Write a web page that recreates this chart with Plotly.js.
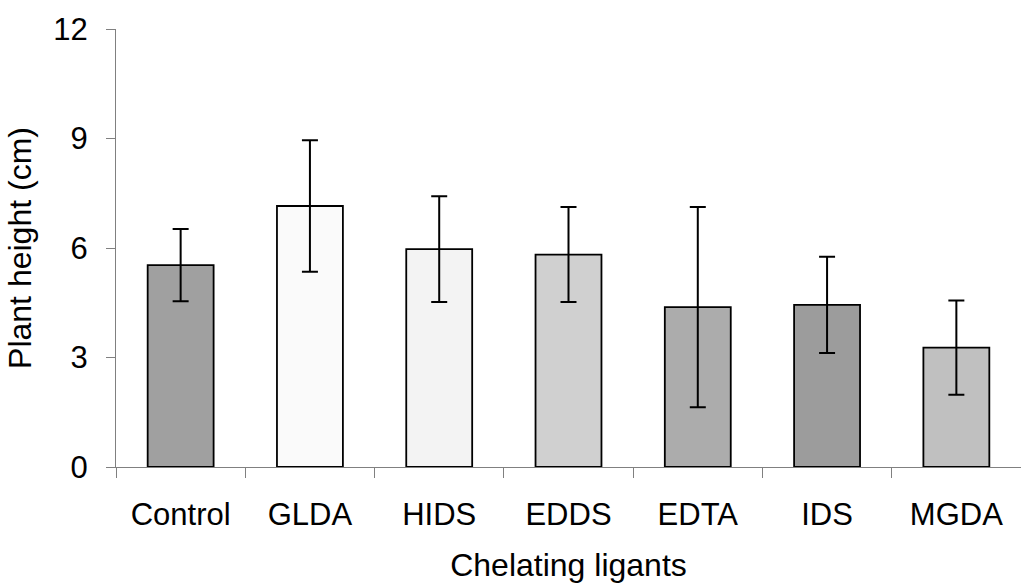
<!DOCTYPE html>
<html>
<head>
<meta charset="utf-8">
<script src="https://cdn.plot.ly/plotly-3.0.1.min.js"></script>
<style>html,body{margin:0;padding:0;background:#fff;}#chart{width:1021px;height:585px;}</style>
</head>
<body>
<div id="chart"></div>
<script>
const categories = ["Control", "GLDA", "HIDS", "EDDS", "EDTA", "IDS", "MGDA"];
const heights = [5.53, 7.15, 5.97, 5.82, 4.38, 4.44, 3.27];
const errors = [0.99, 1.8, 1.45, 1.3, 2.74, 1.32, 1.29];
const barColors = ["#a0a0a0", "#fafafa", "#f3f3f3", "#d0d0d0", "#acacac", "#9c9c9c", "#c0c0c0"];
const yTicks = [0, 3, 6, 9, 12];

const font = "Liberation Sans, Arial, sans-serif";

Plotly.newPlot("chart", [{
  type: "bar",
  x: categories,
  y: heights,
  marker: {color: barColors, line: {color: "#000", width: 1.8}},
  error_y: {type: "data", array: errors, visible: true, color: "#000", thickness: 2, width: 8},
  hoverinfo: "none"
}], {
  width: 1021, height: 585,
  margin: {l: 116, r: 0, t: 29, b: 118},
  paper_bgcolor: "#fff", plot_bgcolor: "#fff",
  bargap: 0.49,
  showlegend: false,
  font: {family: font, size: 31, color: "#000"},
  xaxis: {
    type: "category",
    showline: true, linecolor: "#808080", linewidth: 1,
    ticks: "outside", tickson: "boundaries", ticklen: 10, tickcolor: "#808080", tickwidth: 1,
    ticklabelstandoff: 20,
    showgrid: false, zeroline: false,
    tickfont: {family: font, size: 31, color: "#000"},
    title: {text: "Chelating ligants", font: {family: font, size: 32, color: "#000"}, standoff: 22}
  },
  yaxis: {
    range: [0, 12], tickvals: yTicks, ticktext: yTicks.map(String),
    showline: true, linecolor: "#808080", linewidth: 1,
    ticks: "outside", ticklen: 9, tickcolor: "#808080", tickwidth: 1,
    ticklabelstandoff: 12,
    showgrid: false, zeroline: false,
    tickfont: {family: font, size: 31, color: "#000"},
    title: {text: "Plant height (cm)", font: {family: font, size: 32, color: "#000"}, standoff: 12}
  }
}, {staticPlot: true, displayModeBar: false});
</script>
</body>
</html>
